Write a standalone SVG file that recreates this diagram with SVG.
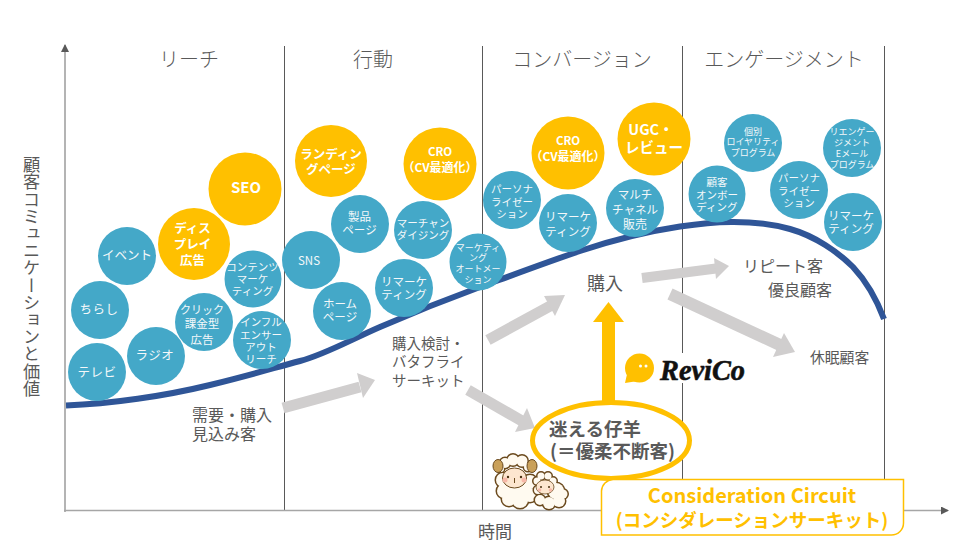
<svg xmlns="http://www.w3.org/2000/svg" width="966" height="553" viewBox="0 0 966 553">
<defs>
<style>
text{font-family:"Noto Sans CJK JP","Noto Sans",sans-serif}
.b{fill:#44A8C8}
.g{fill:#FFC000}
.c{text-anchor:middle;fill:#F4F8FA}
.bd{font-weight:700;fill:#FFF}
.s9{font-size:9px}.s10{font-size:10.5px}.s11{font-size:11.5px}.s12{font-size:12.5px}
.h{font-size:20px;fill:#595959;text-anchor:middle;font-weight:300}
.l{fill:#595959}
.v{stroke:#595959;stroke-width:1;fill:none}
.ar{stroke:#D0CECE;fill:none}
.ah{fill:#D0CECE}
.wo{fill:#6B4A1E;stroke:#6B4A1E;stroke-width:3}
.wf{fill:#FFFAF0;stroke:none}
</style>
<marker id="ax" markerWidth="8" markerHeight="8" refX="7" refY="4" orient="auto" markerUnits="userSpaceOnUse"><path d="M0 0L8 4L0 8Z" fill="#595959"/></marker>
<g id="bw">
<circle cx="503" cy="480" r="7"/><circle cx="504" cy="491" r="7"/><circle cx="509" cy="499" r="7"/><circle cx="520" cy="500" r="8"/><circle cx="530" cy="495" r="7"/><circle cx="530" cy="482" r="7"/><circle cx="515" cy="487" r="15"/>
<circle cx="505" cy="463" r="5"/><circle cx="513" cy="460" r="5.500"/><circle cx="522" cy="461" r="5.500"/><circle cx="528" cy="467" r="4"/><circle cx="501" cy="469" r="3"/>
</g>
<g id="sw">
<circle cx="538" cy="490" r="4"/><circle cx="540" cy="500" r="5"/><circle cx="549" cy="503" r="6"/><circle cx="559" cy="501" r="6"/><circle cx="563" cy="494" r="4.500"/><circle cx="556" cy="491" r="8"/>
<circle cx="537" cy="481" r="3.500"/><circle cx="541" cy="476" r="3.500"/><circle cx="548" cy="476" r="3.500"/><circle cx="553" cy="481" r="3.500"/>
</g>
</defs>
<rect width="966" height="553" fill="#FFF"/>

<g id="axes">
<path class="v" d="M284.500 46V510M482.500 46V510M682.500 46V510M884.500 46V510"/>
<path d="M65 512V45" stroke="#8C8C8C" stroke-width="1.300" fill="none" marker-end="url(#ax)"/>
<path d="M64 510.500H948" stroke="#A6A6A6" stroke-width="1.500" fill="none" marker-end="url(#ax)"/>
</g>

<g id="headers">
<text class="h" x="189" y="67">リーチ</text>
<text class="h" x="373" y="67">行動</text>
<text class="h" x="582" y="67">コンバージョン</text>
<text class="h" x="784" y="67">エンゲージメント</text>
<text class="l" x="31.500" y="156" font-size="17.200" style="writing-mode:vertical-rl">顧客コミュニケーションと価値</text>
<text class="l" x="478" y="538" font-size="17">時間</text>
</g>

<g id="connectors">
<path id="curve" d="M66 405.500C110 404 165 396 210 385S275 367.500 300 361S350 340 380 327S450 298 480 287S550 261 580 251S650 231 680 226.500C710 222 750 218 790 229C815 236 838 252 853 267C868 283 878 303 884 319" fill="none" stroke="#2F5597" stroke-width="6"/>
<path class="ar" stroke-width="11" d="M283 408L360 387"/><path class="ah" d="M357 373L375 380L363 398Z"/>
<path class="ar" stroke-width="11" d="M488 340L552 305"/><path class="ah" d="M544 296L565 295L555 316Z"/>
<path class="ar" stroke-width="11" d="M468 390L522 421"/><path class="ah" d="M527 408L535 428L515 432Z"/>
<path class="ar" stroke-width="10" d="M642 278L716 268.500"/><path class="ah" d="M714 258L729 266L716 279Z"/>
<path class="ar" stroke-width="12" d="M670 294L780 345"/><path class="ah" d="M784 333L795 352L773 357Z"/>
<path d="M608.500 405V320" stroke="#FFC000" stroke-width="13" fill="none"/><path class="g" d="M593 322H624L608.500 302Z"/>
</g>

<g id="n-terebi"><circle class="b" cx="97" cy="372" r="29"/><text class="c s12" x="97" y="376.500" letter-spacing=".5">テレビ</text></g>
<g id="n-radio"><circle class="b" cx="156" cy="356" r="29"/><text class="c s12" x="155" y="359.500" letter-spacing=".5">ラジオ</text></g>
<g id="n-chirashi"><circle class="b" cx="100" cy="310" r="29"/><text class="c s12" x="99" y="313.500" letter-spacing=".5">ちらし</text></g>
<g id="n-event"><circle class="b" cx="127" cy="256" r="29"/><text class="c s12" x="127" y="259.500">イベント</text></g>
<g id="n-display"><circle class="g" cx="194" cy="244" r="36"/><text class="c bd s12" x="192.500"><tspan x="192.500" y="232.500">ディス</tspan><tspan x="192.500" y="248.500">プレイ</tspan><tspan x="192.500" y="264.500">広告</tspan></text></g>
<g id="n-seo"><circle class="g" cx="245" cy="189" r="36.500"/><text class="c bd" x="246" y="192.500" font-size="15">SEO</text></g>
<g id="n-contents"><circle class="b" cx="253" cy="279" r="28.500"/><text class="c s10"><tspan x="252.500" y="271">コンテンツ</tspan><tspan x="252.500" y="283">マーケ</tspan><tspan x="252.500" y="295">ティング</tspan></text></g>
<g id="n-click"><circle class="b" cx="204" cy="322" r="29"/><text class="c s11"><tspan x="202" y="314" font-size="11">クリック</tspan><tspan x="202" y="328">課金型</tspan><tspan x="202" y="344">広告</tspan></text></g>
<g id="n-influencer"><circle class="b" cx="262" cy="340" r="29"/><text class="c s10"><tspan x="261" y="326">インフル</tspan><tspan x="261" y="339">エンサー</tspan><tspan x="261" y="351">アウト</tspan><tspan x="261" y="363">リーチ</tspan></text></g>

<g id="n-landing"><circle class="g" cx="331" cy="161" r="36"/><text class="c bd s12"><tspan x="331" y="158.500">ランディン</tspan><tspan x="331" y="173.500">グページ</tspan></text></g>
<g id="n-cro1"><circle class="g" cx="440" cy="164" r="36.500"/><text class="c" font-weight="700"><tspan x="440" y="156" font-size="11.500" fill="#FFF">CRO</tspan><tspan x="440" y="171.500" font-size="12" fill="#FFF">（CV最適化）</tspan></text></g>
<g id="n-product"><circle class="b" cx="360" cy="224" r="29"/><text class="c s11"><tspan x="359.500" y="221">製品</tspan><tspan x="359.500" y="234">ページ</tspan></text></g>
<g id="n-merch"><circle class="b" cx="423" cy="230" r="29"/><text class="c s10"><tspan x="423" y="227">マーチャン</tspan><tspan x="423" y="239">ダイジング</tspan></text></g>
<g id="n-sns"><circle class="b" cx="311" cy="260" r="29"/><text class="c s11" x="309" y="264.500">SNS</text></g>
<g id="n-ma"><circle class="b" cx="478" cy="262" r="28.500"/><text class="c s9"><tspan x="478" y="250.500">マーケティ</tspan><tspan x="478" y="260.500">ング</tspan><tspan x="478" y="271.500">オートメー</tspan><tspan x="478" y="282.500">ション</tspan></text></g>
<g id="n-remarket1"><circle class="b" cx="404" cy="288" r="29"/><text class="c s11"><tspan x="404" y="285.500">リマーケ</tspan><tspan x="404" y="298.500">ティング</tspan></text></g>
<g id="n-home"><circle class="b" cx="342" cy="311" r="29"/><text class="c s11"><tspan x="340" y="308">ホーム</tspan><tspan x="340" y="321">ページ</tspan></text></g>

<g id="n-person1"><circle class="b" cx="512" cy="200" r="29"/><text class="c s10"><tspan x="512" y="193">パーソナ</tspan><tspan x="512" y="206">ライゼー</tspan><tspan x="512" y="218">ション</tspan></text></g>
<g id="n-cro2"><circle class="g" cx="568" cy="153" r="36.500"/><text class="c" font-weight="700"><tspan x="568" y="145" font-size="11.500" fill="#FFF">CRO</tspan><tspan x="568" y="161" font-size="12" fill="#FFF">（CV最適化）</tspan></text></g>
<g id="n-ugc"><circle class="g" cx="654" cy="139" r="36.500"/><text class="c bd" font-size="14.500"><tspan x="651" y="134.500">UGC・</tspan><tspan x="654" y="152.500">レビュー</tspan></text></g>
<g id="n-remarket2"><circle class="b" cx="568" cy="223" r="29"/><text class="c s11"><tspan x="568" y="221">リマーケ</tspan><tspan x="568" y="235.500">ティング</tspan></text></g>
<g id="n-multi"><circle class="b" cx="635" cy="208" r="29"/><text class="c s11"><tspan x="635" y="199">マルチ</tspan><tspan x="635" y="213.500">チャネル</tspan><tspan x="635" y="229" font-size="12">販売</tspan></text></g>

<g id="n-loyalty"><circle class="b" cx="753" cy="143" r="29"/><text class="c s9"><tspan x="753" y="134.500">個別</tspan><tspan x="753" y="145">ロイヤリティ</tspan><tspan x="753" y="155.500">プログラム</tspan></text></g>
<g id="n-reengage"><circle class="b" cx="852" cy="148" r="29"/><text class="c s9"><tspan x="852" y="135">リエンゲー</tspan><tspan x="852" y="145.500">ジメント</tspan><tspan x="852" y="156.500">Eメール</tspan><tspan x="852" y="167.500">プログラム</tspan></text></g>
<g id="n-onboarding"><circle class="b" cx="717" cy="194" r="28.500"/><text class="c s10"><tspan x="717" y="186">顧客</tspan><tspan x="717" y="199">オンボー</tspan><tspan x="717" y="211">ディング</tspan></text></g>
<g id="n-person2"><circle class="b" cx="799" cy="190" r="29"/><text class="c s10"><tspan x="799" y="182">パーソナ</tspan><tspan x="799" y="195">ライゼー</tspan><tspan x="799" y="207">ション</tspan></text></g>
<g id="n-remarket3"><circle class="b" cx="853" cy="222" r="29"/><text class="c s11"><tspan x="851" y="219.500">リマーケ</tspan><tspan x="851" y="232.500">ティング</tspan></text></g>

<g id="labels">
<text class="l" font-size="16"><tspan x="192" y="421">需要・購入</tspan><tspan x="192" y="440">見込み客</tspan></text>
<text class="l" font-size="14.500"><tspan x="392" y="349">購入検討・</tspan><tspan x="392" y="367">バタフライ</tspan><tspan x="392" y="386">サーキット</tspan></text>
<text class="l" x="587" y="290" font-size="18">購入</text>
<text class="l" x="743" y="272" font-size="16">リピート客</text>
<text class="l" x="768" y="296" font-size="16">優良顧客</text>
<text class="l" x="810" y="363" font-size="14.800">休眠顧客</text>
</g>

<g id="n-revico">
<rect x="624" y="353" width="130" height="30" fill="#FFF"/>
<circle class="g" cx="639.500" cy="368" r="14.500"/><path class="g" d="M625 383L628 370L638 381Z"/>
<circle cx="640.500" cy="366" r="1.500" fill="#FFF"/><circle cx="646" cy="366" r="1.500" fill="#FFF"/>
<text x="660" y="380" font-size="30" font-weight="700" font-style="italic" textLength="85" lengthAdjust="spacingAndGlyphs" fill="#111" stroke="#111" stroke-width=".6" style="font-family:'Liberation Serif',serif">ReviCo</text>
</g>

<g id="n-mayou">
<ellipse cx="611" cy="440.500" rx="78.500" ry="38" fill="#FFF" stroke="#FFC000" stroke-width="5"/>
<text fill="#595959" font-weight="700" font-size="18.500"><tspan x="549" y="436">迷える仔羊</tspan><tspan x="550" y="458">(＝優柔不断客)</tspan></text>
</g>

<g id="sheep">
<use href="#bw" class="wo"/><use href="#bw" class="wf"/>
<ellipse cx="498" cy="466" rx="5" ry="6.500" fill="#C9A05A" stroke="#6B4A1E"/><ellipse cx="532" cy="466" rx="5" ry="6.500" fill="#C9A05A" stroke="#6B4A1E"/>
<ellipse cx="514.500" cy="478" rx="12" ry="10" fill="#FDE6CF" stroke="#6B4A1E"/>
<circle cx="508" cy="477" r="1.200" fill="#4A3010"/><circle cx="521" cy="477" r="1.200" fill="#4A3010"/><circle cx="505" cy="480" r="2.500" fill="#F7B8A8"/><circle cx="524" cy="480" r="2.500" fill="#F7B8A8"/><path d="M514.500 478V483" stroke="#6B4A1E" fill="none"/>
<use href="#sw" class="wo"/><use href="#sw" class="wf"/>
<ellipse cx="545" cy="487" rx="9" ry="7" fill="#FDE6CF" stroke="#6B4A1E" stroke-width=".8"/>
<circle cx="541" cy="487" r="1" fill="#4A3010"/><circle cx="549" cy="487" r="1" fill="#4A3010"/><circle cx="539.500" cy="490" r="1.800" fill="#F7B8A8"/><circle cx="550.500" cy="490" r="1.800" fill="#F7B8A8"/>
</g>

<g id="n-circuit">
<path d="M613 479.500H903.500V523A12 12 0 0 1 891.500 535H601.500V491A12 12 0 0 1 613 479.500Z" fill="#FFF" stroke="#FFC000" stroke-width="1.500"/>
<text text-anchor="middle" fill="#FFC000" font-weight="700"><tspan x="752" y="503" font-size="20">Consideration Circuit</tspan><tspan x="752" y="527" font-size="18.500">(コンシダレーションサーキット)</tspan></text>
</g>
</svg>
